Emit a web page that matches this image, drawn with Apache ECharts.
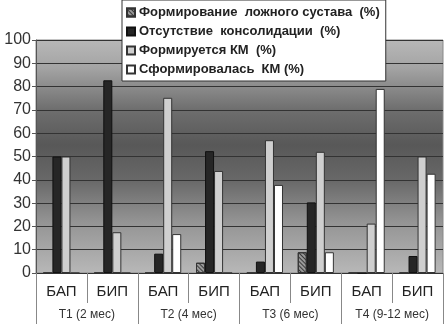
<!DOCTYPE html>
<html>
<head>
<meta charset="utf-8">
<script src="https://cdn.jsdelivr.net/npm/echarts@6/dist/echarts.min.js"></script>
<style>
  html, body { margin: 0; padding: 0; background: #fff; }
  #chart { width: 444px; height: 324px; }
</style>
</head>
<body>
<div id="chart"></div>
<script>
// подписи осей
var groups = ['БАП', 'БИП', 'БАП', 'БИП', 'БАП', 'БИП', 'БАП', 'БИП'];
var periods = ['T1 (2 мес)', 'T2 (4 мес)', 'T3 (6 мес)', 'T4 (9-12 мес)'];

// значения, %
var falseJoint = [0, 0, 0, 4.4, 0, 8.9, 0, 0];
var noConsolidation = [50, 82.7, 8.3, 52.3, 4.9, 30.3, 0, 7.3];
var kmForming = [50, 17.5, 75.2, 43.8, 57, 52, 21.2, 50];
var kmFormed = [0, 0, 16.7, 0, 37.8, 8.9, 79, 42.6];

var seriesNames = [
    'Формирование  ложного сустава  (%)',
    'Отсутствие  консолидации  (%)',
    'Формируется КМ  (%)',
    'Сформировалась  КМ (%)'
];

var chart = echarts.init(document.getElementById('chart'));

var font = 'Liberation Sans, Arial, sans-serif';

function bar(name, data, style) {
    return {
        name: name,
        type: 'bar',
        xAxisIndex: 0,
        data: data,
        barGap: '0%',
        barCategoryGap: '29%',
        itemStyle: style
    };
}

var option = {
    animation: false,
    textStyle: { fontFamily: font },
    legend: {
        orient: 'vertical',
        left: 122,
        top: 0,
        padding: [5, 6, 4, 4],
        itemGap: 4,
        itemWidth: 8,
        itemHeight: 8,
        backgroundColor: '#fff',
        borderColor: '#333',
        borderWidth: 1,
        borderRadius: 0,
        icon: 'rect',
        textStyle: {
            fontFamily: font,
            fontSize: 13,
            fontWeight: 'bold',
            color: '#222',
            lineHeight: 15,
            padding: [0, 0, 0, -1]
        },
        data: seriesNames
    },
    grid: {
        left: 36,
        right: 1,
        top: 40,
        bottom: 51,
        show: true,
        borderColor: '#888',
        borderWidth: 1,
        backgroundColor: {
            type: 'linear', x: 0, y: 0, x2: 0, y2: 1,
            colorStops: [
                { offset: 0, color: '#b8b8b8' },
                { offset: 0.12, color: '#a4a4a4' },
                { offset: 0.3, color: '#6e6e6e' },
                { offset: 0.45, color: '#585858' },
                { offset: 0.6, color: '#686868' },
                { offset: 0.78, color: '#949494' },
                { offset: 1, color: '#b8b8b8' }
            ]
        }
    },
    xAxis: [
        {
            type: 'category',
            data: groups,
            position: 'bottom',
            axisLine: { show: true, lineStyle: { color: '#333' } },
            axisTick: { show: true, length: 30, interval: 0, lineStyle: { color: '#888' } },
            axisLabel: { interval: 0, margin: 11, fontSize: 15, color: '#222', fontFamily: font },
            splitLine: { show: false }
        },
        {
            type: 'category',
            data: periods,
            position: 'bottom',
            axisLine: { show: false },
            axisTick: { show: true, length: 51, interval: 0, lineStyle: { color: '#888' } },
            axisLabel: { interval: 0, margin: 36, fontSize: 12, color: '#333', fontFamily: font },
            splitLine: { show: false }
        }
    ],
    yAxis: {
        type: 'value',
        min: 0,
        max: 100,
        interval: 10,
        axisLine: { show: true, lineStyle: { color: '#555' } },
        axisTick: { show: true, length: 4, lineStyle: { color: '#555' } },
        axisLabel: { margin: 5, fontSize: 16, color: '#333', fontFamily: font },
        splitLine: { show: true, lineStyle: { color: '#333', width: 1 } }
    },
    series: [
        bar(seriesNames[0], falseJoint, {
            color: '#9a9a9a',
            borderColor: '#333',
            borderWidth: 1,
            decal: {
                symbol: 'rect',
                symbolSize: 1,
                dashArrayX: [1, 0],
                dashArrayY: [1, 2],
                rotation: Math.PI / 4,
                color: '#3a3a3a'
            }
        }),
        bar(seriesNames[1], noConsolidation, { color: '#262626', borderColor: '#111', borderWidth: 1 }),
        bar(seriesNames[2], kmForming, { color: '#cfcfcf', borderColor: '#333', borderWidth: 1 }),
        bar(seriesNames[3], kmFormed, { color: '#ffffff', borderColor: '#333', borderWidth: 1 })
    ]
};

chart.setOption(option);

window.onresize = function () {
    chart.resize();
};
</script>
</body>
</html>
